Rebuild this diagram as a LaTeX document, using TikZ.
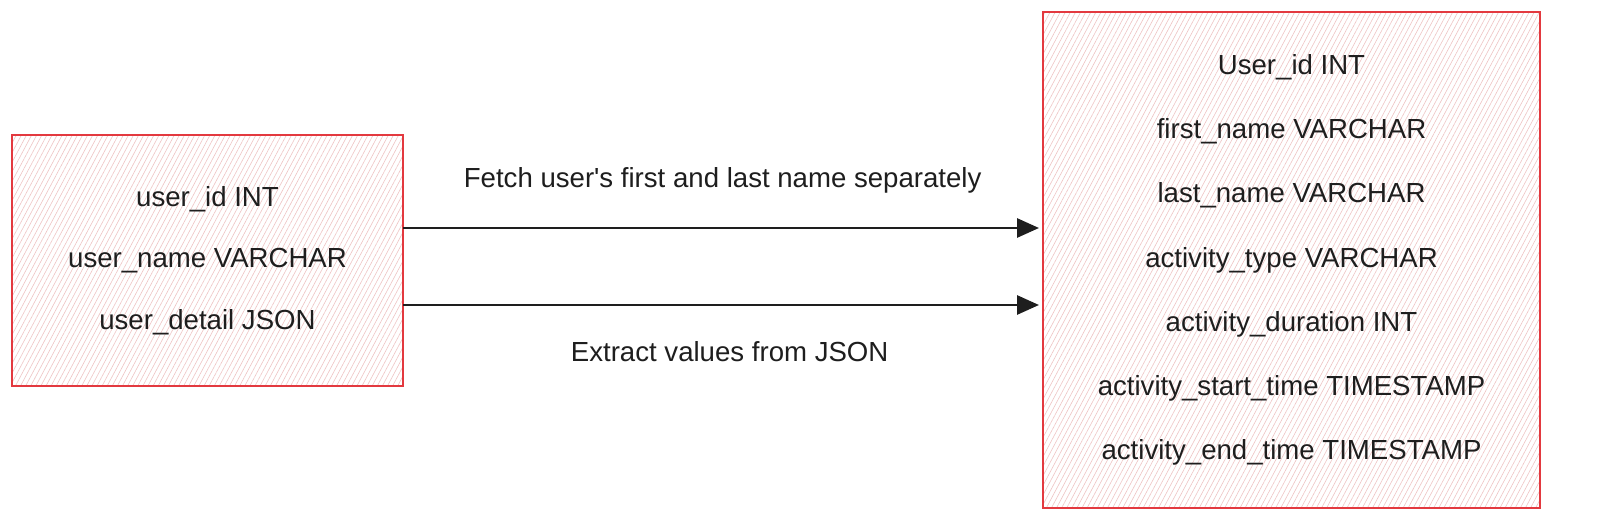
\documentclass[tikz,border=0pt]{standalone}
\usepackage{fontspec}
\setmainfont{Liberation Sans}
\usepackage{tikz}
\usetikzlibrary{arrows.meta, patterns.meta}
\definecolor{boxred}{HTML}{E3393F}
\definecolor{hatch}{HTML}{EFC4C4}
\definecolor{ink}{HTML}{1E1E1E}

\begin{document}
\begin{tikzpicture}[x=1pt, y=1pt,
	table/.style={draw=boxred, line width=2pt, align=center, text=ink,
		pattern={Lines[angle=62, distance=4.5pt, line width=0.6pt]}, pattern color=hatch},
	flow/.style={ink, line width=2.8pt, -{Triangle[length=22pt, width=19pt]}, shorten >=3pt},
	lbl/.style={text=ink, font=\fontsize{27.6}{33}\selectfont}]
\fill[white] (0,0) rectangle (1600,530);
\useasboundingbox (0,0) rectangle (1600,530);

% source table
\node[table, minimum width=391pt, minimum height=251pt, font=\fontsize{27.6}{61.5}\selectfont]
	(users) at (207.5,269.5) {user\_id INT\\user\_name VARCHAR\\user\_detail JSON};

% target table
\node[table, minimum width=497pt, minimum height=496pt, font=\fontsize{27.6}{64.2}\selectfont]
	(activity) at (1291.5,270) {User\_id INT\\first\_name VARCHAR\\last\_name VARCHAR\\
	activity\_type VARCHAR\\activity\_duration INT\\activity\_start\_time TIMESTAMP\\
	activity\_end\_time TIMESTAMP};

% transformations
\draw[flow] ([yshift=32.5pt]users.east) -- ([yshift=32.5pt]users.east -| activity.west)
	node[lbl, midway, yshift=48pt] (fetch) {Fetch user\textquotesingle s first and last name separately};
\draw[flow] ([yshift=-44.5pt]users.east) -- ([yshift=-44.5pt]users.east -| activity.west)
	node[lbl, midway, yshift=-47pt, xshift=7pt] (extract) {Extract values from JSON};
\end{tikzpicture}
\end{document}
